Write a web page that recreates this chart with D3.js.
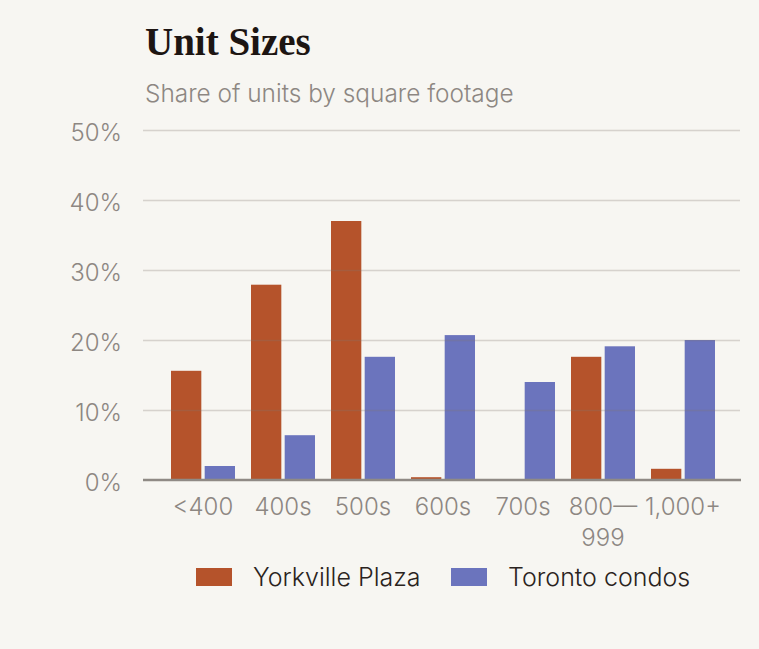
<!DOCTYPE html>
<html>
<head>
<meta charset="utf-8">
<script src="https://cdn.jsdelivr.net/npm/d3@7"></script>
<style>
  html, body { margin: 0; padding: 0; background: #f7f6f2; }
  svg { display: block; }
  .sans { font-family: "Inter", "Noto Sans", sans-serif; font-weight: 300; }
</style>
</head>
<body>
<script>
const categories = ["<400", "400s", "500s", "600s", "700s", "800\u2014\n999", "1,000+"];
const yorkville = [15.6, 27.9, 37.0, 0.4, 0, 17.6, 1.6];
const toronto = [2.0, 6.4, 17.6, 20.7, 14.0, 19.1, 20.0];
const yTicks = [0, 10, 20, 30, 40, 50];
const seriesNames = ["Yorkville Plaza", "Toronto condos"];

document.addEventListener("DOMContentLoaded", function() {
    const width = 759;
    const height = 649;
    const colors = ["#b5532b", "#6b74bd"];

    const svg = d3.select("body").append("svg")
    .attr("width", width)
    .attr("height", height);

    svg.append("rect")
    .attr("width", width)
    .attr("height", height)
    .attr("fill", "#f7f6f2");

    // title + subtitle
    svg.append("text")
    .attr("x", 145)
    .attr("y", 55)
    .attr("font-family", "'Liberation Serif', serif")
    .attr("font-weight", "bold")
    .attr("font-size", 39)
    .attr("fill", "#1d1512")
    .text("Unit Sizes");

    svg.append("text")
    .attr("class", "sans")
    .attr("x", 145)
    .attr("y", 102)
    .attr("font-size", 24.4)
    .attr("fill", "#8d8782")
    .text("Share of units by square footage");

    const y = d3.scaleLinear().domain([0, 50]).range([480, 130]);

    const x = d3.scaleBand()
    .domain(categories)
    .range([163, 723])
    .paddingInner(0.2)
    .paddingOuter(0.1);

    const xInner = d3.scaleBand()
    .domain([0, 1])
    .range([0, x.bandwidth()])
    .paddingInner(0.1);

    const rows = categories.map((c, i) => ({cat: c, values: [yorkville[i], toronto[i]]}));

    const groups = svg.append("g")
    .selectAll("g")
    .data(rows)
    .join("g")
    .attr("transform", d => `translate(${x(d.cat)},0)`);

    groups.selectAll("rect")
    .data(d => d.values.map((v, k) => ({k: k, v: v})))
    .join("rect")
    .attr("x", d => xInner(d.k))
    .attr("width", xInner.bandwidth())
    .attr("y", d => y(d.v))
    .attr("height", d => y(0) - y(d.v))
    .attr("fill", d => colors[d.k]);

    // gridlines on top of the bars
    const yAxis = d3.axisLeft(y)
    .tickValues(yTicks.filter(t => t > 0))
    .tickSize(-(740 - 143))
    .tickFormat("");

    svg.append("g")
    .attr("transform", "translate(143,0)")
    .call(yAxis)
    .call(g => g.select(".domain").remove())
    .call(g => g.selectAll("line")
        .attr("stroke", "rgba(128,120,112,0.28)")
        .attr("stroke-width", 1.5));

    // y tick labels
    svg.append("g")
    .selectAll("text")
    .data(yTicks)
    .join("text")
    .attr("class", "sans")
    .attr("x", 122)
    .attr("y", d => y(d) + 11)
    .attr("text-anchor", "end")
    .attr("font-size", 24)
    .attr("fill", "#8d8782")
    .text(d => d + "%");

    // baseline
    svg.append("line")
    .attr("x1", 143)
    .attr("x2", 741)
    .attr("y1", y(0))
    .attr("y2", y(0))
    .attr("stroke", "#8f8a85")
    .attr("stroke-width", 2.4);

    // x labels
    const cx = d => x(d) + x.bandwidth() / 2;
    const xl = svg.append("g")
    .selectAll("text")
    .data(categories)
    .join("text")
    .attr("class", "sans")
    .attr("x", cx)
    .attr("y", 515)
    .attr("text-anchor", "middle")
    .attr("font-size", 24)
    .attr("fill", "#8d8782");

    xl.selectAll("tspan")
    .data(d => d.split("\n").map(s => ({s: s, x: cx(d)})))
    .join("tspan")
    .attr("x", d => d.x)
    .attr("dy", (d, i) => i ? 31 : 0)
    .text(d => d.s);

    // legend
    const legendX = [196, 451];
    const legend = svg.append("g")
    .selectAll("g")
    .data(seriesNames)
    .join("g")
    .attr("transform", (d, i) => `translate(${legendX[i]},568)`);

    legend.append("rect")
    .attr("width", 36)
    .attr("height", 18)
    .attr("fill", (d, i) => colors[i]);

    legend.append("text")
    .attr("class", "sans")
    .attr("x", 57)
    .attr("y", 18)
    .attr("font-size", 25)
    .attr("fill", "#2a2320")
    .text(d => d);
});
</script>
</body>
</html>
